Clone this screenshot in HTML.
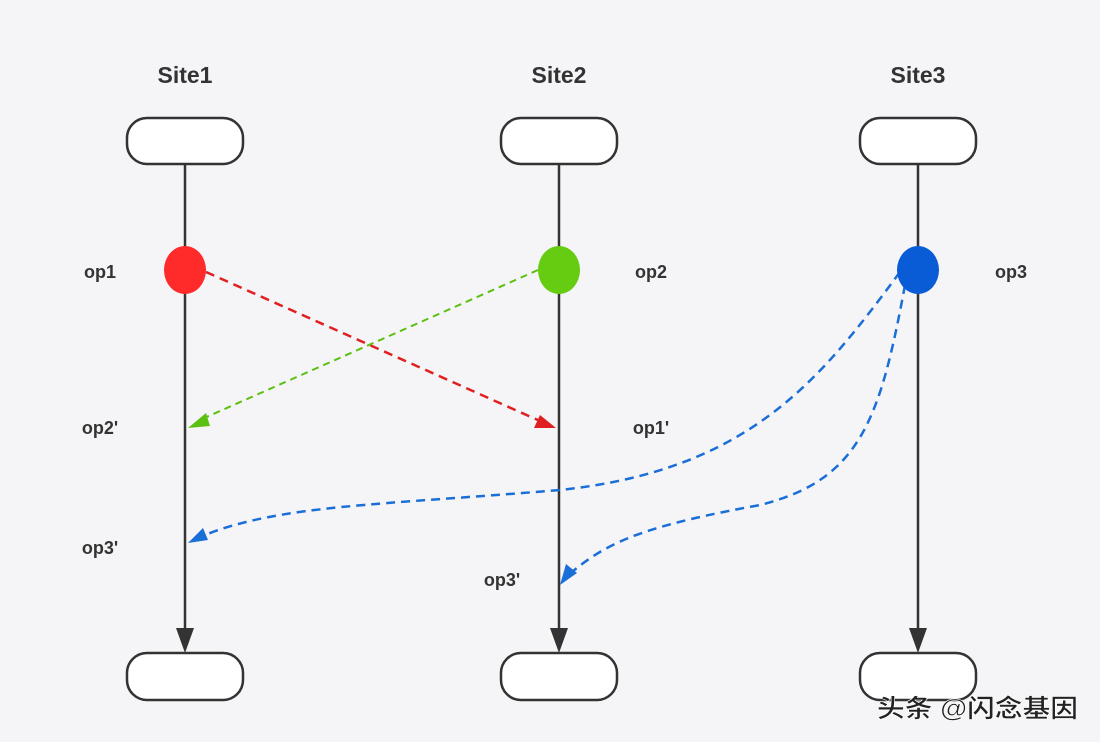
<!DOCTYPE html>
<html><head><meta charset="utf-8"><style>
html,body{margin:0;padding:0;background:#f5f5f7;}
svg{display:block}
text{font-family:"Liberation Sans","DejaVu Sans",sans-serif;font-weight:bold;fill:#333}
</style></head><body>
<svg width="1100" height="742" viewBox="0 0 1100 742" xmlns="http://www.w3.org/2000/svg">
<rect width="1100" height="742" fill="#f5f5f7"/>
<g font-size="23" text-anchor="middle">
<text x="185" y="83">Site1</text><text x="559" y="83">Site2</text><text x="918" y="83">Site3</text>
</g>
<g font-size="18" text-anchor="middle">
<text x="100" y="278">op1</text><text x="651" y="278">op2</text><text x="1011" y="278">op3</text>
<text x="100" y="434">op2'</text><text x="651" y="434">op1'</text>
<text x="100" y="554">op3'</text><text x="502" y="586">op3'</text>
</g>
<g stroke="#333" stroke-width="2.5" fill="none">
<line x1="185" y1="164" x2="185" y2="632"/><line x1="559" y1="164" x2="559" y2="632"/><line x1="918" y1="164" x2="918" y2="632"/>
</g>
<g fill="#333">
<path d="M176,628 L194,628 L185,653z"/><path d="M550,628 L568,628 L559,653z"/><path d="M909,628 L927,628 L918,653z"/>
</g>
<g fill="#fff" stroke="#333" stroke-width="2.5">
<rect x="127" y="118" width="116" height="46" rx="20"/><rect x="501" y="118" width="116" height="46" rx="20"/><rect x="860" y="118" width="116" height="46" rx="20"/>
<rect x="127" y="653" width="116" height="47" rx="20"/><rect x="501" y="653" width="116" height="47" rx="20"/><rect x="860" y="653" width="116" height="47" rx="20"/>
</g>
<line x1="206" y1="272" x2="540" y2="421" stroke="#e02020" stroke-width="2.5" stroke-dasharray="9,6"/>
<path d="M556,428 L534,428 L540,415z" fill="#e02020"/>
<line x1="538" y1="270" x2="202" y2="419" stroke="#5cc010" stroke-width="2" stroke-dasharray="7,5"/>
<path d="M188,428 L206,413 L210,426z" fill="#5cc010"/>
<path d="M900,272 C820,380 750,470 560,490 C380,505 280,505 205,535" stroke="#1a6ed8" stroke-width="2.5" stroke-dasharray="9,6" fill="none"/>
<path d="M188,543 L203,528 L208,540z" fill="#1a6ed8"/>
<path d="M905,285 C880,420 860,480 760,505 C650,525 610,540 572,572" stroke="#1a6ed8" stroke-width="2.5" stroke-dasharray="9,6" fill="none"/>
<path d="M560,585 L566,564 L577,573z" fill="#1a6ed8"/>
<ellipse cx="185" cy="270" rx="21" ry="24" fill="#ff2a2a"/>
<ellipse cx="559" cy="270" rx="21" ry="24" fill="#66cc11"/>
<ellipse cx="918" cy="270" rx="21" ry="24" fill="#0a5cd6"/>
<text x="877" y="717" font-size="25" font-weight="normal" textLength="201" lengthAdjust="spacingAndGlyphs" style="font-family:'Liberation Sans','Noto Sans CJK SC',sans-serif;fill:#222;stroke:#fff;stroke-width:0.6">头条 @闪念基因</text>
</svg>
</body></html>
